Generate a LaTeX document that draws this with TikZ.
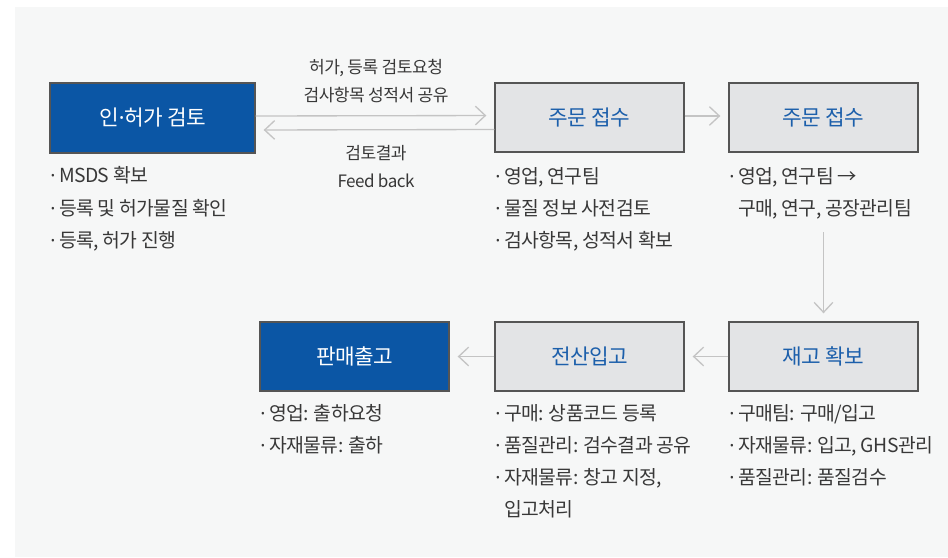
\documentclass[tikz,border=0pt]{standalone}
\usepackage{fontspec}
\newfontfamily\kr[LetterSpace=-3]{Noto Sans CJK KR}
\newfontfamily\lat{Noto Sans}
\newcommand\mdot{{\lat ·}}
\usetikzlibrary{arrows.meta,calc}
\definecolor{bg}{HTML}{F6F7F7}
\definecolor{bluebox}{HTML}{0B56A5}
\definecolor{graybox}{HTML}{E3E4E6}
\definecolor{edgec}{HTML}{555555}
\definecolor{titleblue}{HTML}{1C5FAB}
\definecolor{txt}{HTML}{383838}
\definecolor{arr}{HTML}{C4C4C4}
\tikzset{
  stepbox/.style={draw=edgec, line width=1pt, minimum width=189*0.75pt, minimum height=69*0.75pt, inner sep=0pt, font=\kr\fontsize{16}{19}\selectfont},
  bluestep/.style={stepbox, fill=bluebox, text=white},
  graystep/.style={stepbox, fill=graybox, text=titleblue},
  item/.style={anchor=west, inner sep=0pt, text=txt, text height=0.83em, text depth=0.07em, font=\kr\fontsize{14.5}{17}\selectfont},
  lab/.style={inner sep=0pt, text=txt, text height=0.83em, text depth=0.07em, font=\kr\fontsize{12.8}{15}\selectfont},
  conn/.style={draw=arr, line width=1pt, -{Straight Barb[length=7.5pt, width=14pt, line width=1pt]}, shorten >=6pt}
}
\begin{document}
\begin{tikzpicture}[x=0.75pt, y=-0.75pt]
\useasboundingbox (0,0) rectangle (948,557);
\fill[bg] (15,7) rectangle (948,557);

% boxes
\node[bluestep, minimum width=205*0.75pt, minimum height=70*0.75pt] (b1) at (152.5,118) {인\mdot 허가 검토};
\node[graystep] (b2) at (589.5,117.5) {주문 접수};
\node[graystep] (b3) at (823.5,117.5) {주문 접수};
\node[graystep] (b4) at (823.5,356.5) {재고 확보};
\node[graystep] (b5) at (589.5,356.5) {전산입고};
\node[bluestep] (b6) at (354.5,356.5) {판매출고};

% connectors
\draw[conn] ($(b1.east)+(0,-2)$) -- ($(b2.west)+(0,-2)$);
\draw[conn] ($(b2.west)+(0,12)$) -- ($(b1.east)+(0,12)$);
\draw[conn] ($(b2.east)+(0,-1.5)$) -- ($(b3.west)+(0,-1.5)$);
\coordinate (d0) at (823.5,232);
\draw[conn] (d0) -- (b4.north);
\draw[conn] (b4.west) -- (b5.east);
\draw[conn] (b5.west) -- (b6.east);

% arrow labels
\node[lab] (t1) at (376,68) {허가, 등록 검토요청};
\node[lab] (t2) at (376,96) {검사항목 성적서 공유};
\node[lab] (t3) at (376,154) {검토결과};
\node[lab] (t4) at (376,182) {Feed back};

% lists
\node[item] (l1a) at (50,177) {\mdot{} MSDS 확보};
\node[item] (l1b) at (50,210) {\mdot{} 등록 및 허가물질 확인};
\node[item] (l1c) at (50,242) {\mdot{} 등록, 허가 진행};

\node[item] (l2a) at (495,178) {\mdot{} 영업, 연구팀};
\node[item] (l2b) at (495,210) {\mdot{} 물질 정보 사전검토};
\node[item] (l2c) at (495,242) {\mdot{} 검사항목, 성적서 확보};

\node[item] (l3a) at (729,178) {\mdot{} 영업, 연구팀 →};
\node[item] (l3b) at (729,210) {\hphantom{\mdot{} }구매, 연구, 공장관리팀};

\node[item] (l6a) at (260,415) {\mdot{} 영업: 출하요청};
\node[item] (l6b) at (260,447) {\mdot{} 자재물류: 출하};

\node[item] (l5a) at (495,415) {\mdot{} 구매: 상품코드 등록};
\node[item] (l5b) at (495,447) {\mdot{} 품질관리: 검수결과 공유};
\node[item] (l5c) at (495,479) {\mdot{} 자재물류: 창고 지정,};
\node[item] (l5d) at (495,511) {\hphantom{\mdot{} }입고처리};

\node[item] (l4a) at (729,415) {\mdot{} 구매팀: 구매/입고};
\node[item] (l4b) at (729,447) {\mdot{} 자재물류: 입고, GHS관리};
\node[item] (l4c) at (729,479) {\mdot{} 품질관리: 품질검수};
\end{tikzpicture}
\end{document}
